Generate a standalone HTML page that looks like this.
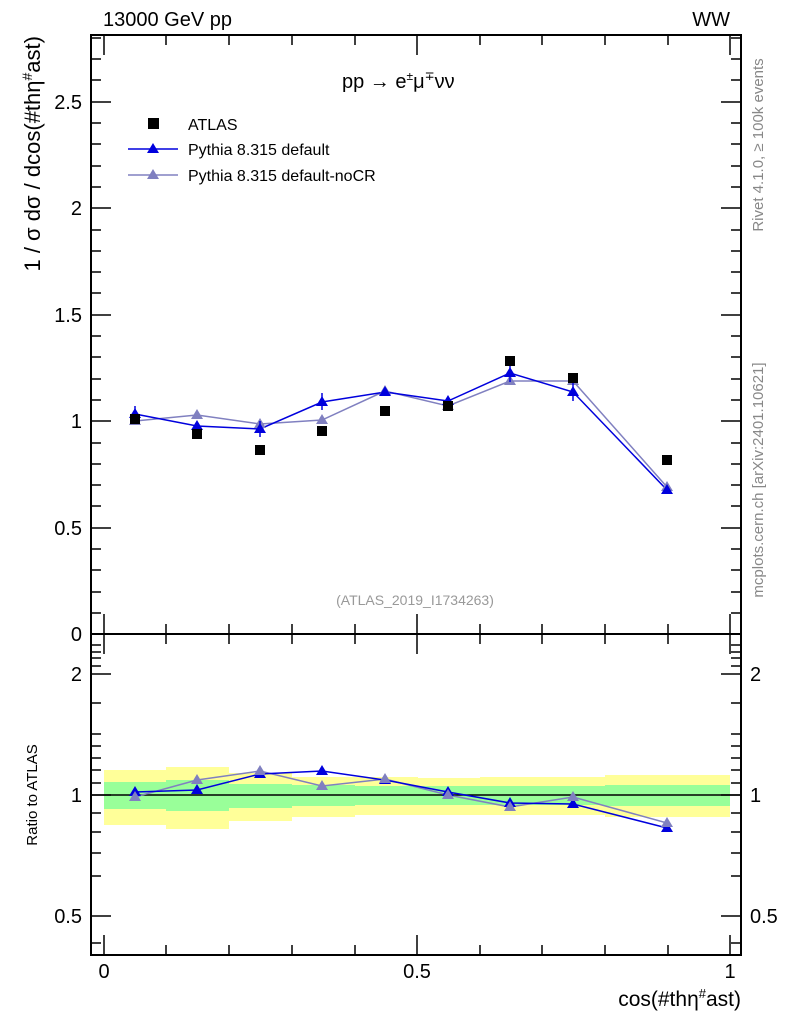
<!DOCTYPE html>
<html><head><meta charset="utf-8"><style>body{margin:0;background:#fff}svg{display:block}text{font-family:"Liberation Sans",sans-serif}</style></head><body>
<svg width="786" height="1024" viewBox="0 0 786 1024" xmlns="http://www.w3.org/2000/svg">
<g fill="#ffff99">
<rect x="104" y="770" width="63" height="55"/><rect x="166" y="767" width="63" height="62"/><rect x="229" y="773" width="63" height="48"/><rect x="292" y="777" width="63" height="40"/><rect x="355" y="777" width="63" height="38"/><rect x="417" y="778" width="63" height="37"/><rect x="480" y="777" width="63" height="38"/><rect x="542" y="777" width="63" height="38"/><rect x="605" y="775" width="125" height="42"/></g>
<g fill="#99ff99">
<rect x="104" y="782" width="63" height="27"/><rect x="166" y="780" width="63" height="31"/><rect x="229" y="784" width="63" height="24"/><rect x="292" y="785" width="63" height="21"/><rect x="355" y="786" width="63" height="19"/><rect x="417" y="786" width="63" height="19"/><rect x="480" y="786" width="63" height="19"/><rect x="542" y="786" width="63" height="19"/><rect x="605" y="785" width="125" height="21"/></g>
<line x1="91" y1="795" x2="741" y2="795" stroke="#000" stroke-width="1.5"/>
<g fill="none" stroke="#000" stroke-width="2">
<rect x="91" y="35" width="650" height="599"/><rect x="91" y="634" width="650" height="321"/></g>
<g stroke="#000" stroke-width="1.5">
<path d="M91 634h20M91 528h20M91 421h20M91 315h20M91 208h20M91 102h20M741 634h-20M741 528h-20M741 421h-20M741 315h-20M741 208h-20M741 102h-20"/>
<path d="M91 613h10M91 592h10M91 570h10M91 549h10M91 506h10M91 485h10M91 464h10M91 443h10M91 400h10M91 379h10M91 357h10M91 336h10M91 293h10M91 272h10M91 251h10M91 230h10M91 187h10M91 166h10M91 144h10M91 123h10M91 80h10M91 59h10M91 38h10M741 613h-10M741 592h-10M741 570h-10M741 549h-10M741 506h-10M741 485h-10M741 464h-10M741 443h-10M741 400h-10M741 379h-10M741 357h-10M741 336h-10M741 293h-10M741 272h-10M741 251h-10M741 230h-10M741 187h-10M741 166h-10M741 144h-10M741 123h-10M741 80h-10M741 59h-10M741 38h-10"/>
<path d="M91 674h20M91 795h20M91 916h20M741 674h-20M741 795h-20M741 916h-20"/>
<path d="M91 645h10M91 652h10M91 658h10M91 666h10M91 703h10M91 734h10M91 746h10M91 758h10M91 770h10M91 783h10M91 813h10M91 832h10M91 853h10M91 876h10M91 943h10M741 645h-10M741 652h-10M741 658h-10M741 666h-10M741 703h-10M741 734h-10M741 746h-10M741 758h-10M741 770h-10M741 783h-10M741 813h-10M741 832h-10M741 853h-10M741 876h-10M741 943h-10"/>
<path d="M104 634v-20M417 634v-20M730 634v-20M104 35v20M417 35v20M730 35v20M104 955v-20M417 955v-20M730 955v-20M104 634v20M417 634v20M730 634v20"/>
<path d="M166 634v-10M229 634v-10M292 634v-10M355 634v-10M480 634v-10M542 634v-10M605 634v-10M668 634v-10M166 35v10M229 35v10M292 35v10M355 35v10M480 35v10M542 35v10M605 35v10M668 35v10M166 955v-10M229 955v-10M292 955v-10M355 955v-10M480 955v-10M542 955v-10M605 955v-10M668 955v-10M166 634v10M229 634v10M292 634v10M355 634v10M480 634v10M542 634v10M605 634v10M668 634v10"/>
</g>
<g font-size="20" text-anchor="end">
<text x="82" y="641">0</text><text x="82" y="535">0.5</text><text x="82" y="428">1</text><text x="82" y="322">1.5</text><text x="82" y="215">2</text><text x="82" y="109">2.5</text>
<text x="82" y="681">2</text><text x="82" y="802">1</text><text x="82" y="923">0.5</text></g>
<g font-size="20"><text x="750" y="681">2</text><text x="750" y="802">1</text><text x="750" y="923">0.5</text></g>
<g font-size="20" text-anchor="middle"><text x="104" y="978">0</text><text x="417" y="978">0.5</text><text x="730" y="978">1</text></g>
<text x="741" y="1006" font-size="21" text-anchor="end">cos(#thη<tspan font-size="13" dy="-8">#</tspan><tspan dy="8">ast)</tspan></text>
<text x="103" y="26" font-size="20">13000 GeV pp</text>
<text x="730" y="26" font-size="20" text-anchor="end">WW</text>
<text transform="translate(40,36) rotate(-90)" font-size="22" text-anchor="end">1 / σ  dσ / dcos(#thη<tspan font-size="14" dy="-8">#</tspan><tspan dy="8">ast)</tspan></text>
<text transform="translate(37,795) rotate(-90)" font-size="15" text-anchor="middle">Ratio to ATLAS</text>
<text transform="translate(763,145) rotate(-90)" font-size="15" fill="#888" text-anchor="middle">Rivet 4.1.0, ≥ 100k events</text>
<text transform="translate(763,480) rotate(-90)" font-size="15" fill="#888" text-anchor="middle">mcplots.cern.ch [arXiv:2401.10621]</text>
<text x="415" y="605" font-size="14" fill="#999" text-anchor="middle">(ATLAS_2019_I1734263)</text>
<text x="342" y="88" font-size="20">pp  →  e<tspan font-size="12" dy="-8">±</tspan><tspan dy="8">μ</tspan><tspan font-size="12" dy="-8">∓</tspan><tspan dy="8">νν</tspan></text>
<rect x="148" y="118" width="11" height="11"/><text x="188" y="130" font-size="16">ATLAS</text>
<line x1="128" y1="149" x2="178" y2="149" stroke="#0000dd" stroke-width="1.5"/><path d="M153 143l6 10h-12z" fill="#0000dd"/><text x="188" y="155" font-size="16">Pythia 8.315 default</text>
<line x1="128" y1="175" x2="178" y2="175" stroke="#8080c0" stroke-width="1.5"/><path d="M153 169l6 10h-12z" fill="#8080c0"/><text x="188" y="181" font-size="16">Pythia 8.315 default-noCR</text>
<g>
<polyline fill="none" stroke="#8080c0" stroke-width="1.5" points="135,421 197,415 260,424 322,420 385,391 448,406 510,381 573,381 667,487"/>
<polyline fill="none" stroke="#0000dd" stroke-width="1.5" points="135,414 197,426 260,429 322,402 385,392 448,401 510,373 573,392 667,490"/>
<g fill="#8080c0"><path d="M135 415l6 10h-12zM197 409l6 10h-12zM260 418l6 10h-12zM322 414l6 10h-12zM385 385l6 10h-12zM448 400l6 10h-12zM510 375l6 10h-12zM573 375l6 10h-12zM667 481l6 10h-12z"/></g>
<g fill="#0000dd"><path d="M135 408l6 10h-12zM197 420l6 10h-12zM260 423l6 10h-12zM322 396l6 10h-12zM385 386l6 10h-12zM448 395l6 10h-12zM510 367l6 10h-12zM573 386l6 10h-12zM667 484l6 10h-12z"/></g>
<g stroke="#0000dd" stroke-width="1.5"><path d="M135 406v16M260 421v16M322 393v17M510 364v18M573 383v18"/></g>
<g fill="#000"><rect x="130" y="414" width="10" height="10"/><rect x="192" y="429" width="10" height="10"/><rect x="255" y="445" width="10" height="10"/><rect x="317" y="426" width="10" height="10"/><rect x="380" y="406" width="10" height="10"/><rect x="443" y="401" width="10" height="10"/><rect x="505" y="356" width="10" height="10"/><rect x="568" y="373" width="10" height="10"/><rect x="662" y="455" width="10" height="10"/></g>
</g>
<g>
<polyline fill="none" stroke="#8080c0" stroke-width="1.5" points="135,797 197,780 260,771 322,786 385,779 448,795 510,807 573,797 667,823"/>
<polyline fill="none" stroke="#0000dd" stroke-width="1.5" points="135,792 197,790 260,774 322,771 385,780 448,792 510,803 573,804 667,828"/>
<g fill="#0000dd"><path d="M135 786l6 10h-12zM197 784l6 10h-12zM260 768l6 10h-12zM322 765l6 10h-12zM385 774l6 10h-12zM448 786l6 10h-12zM510 797l6 10h-12zM573 798l6 10h-12zM667 822l6 10h-12z"/></g>
<g fill="#8080c0"><path d="M135 791l6 10h-12zM197 774l6 10h-12zM260 765l6 10h-12zM322 780l6 10h-12zM385 773l6 10h-12zM448 789l6 10h-12zM510 801l6 10h-12zM573 791l6 10h-12zM667 817l6 10h-12z"/></g>
</g>
</svg>
</body></html>
